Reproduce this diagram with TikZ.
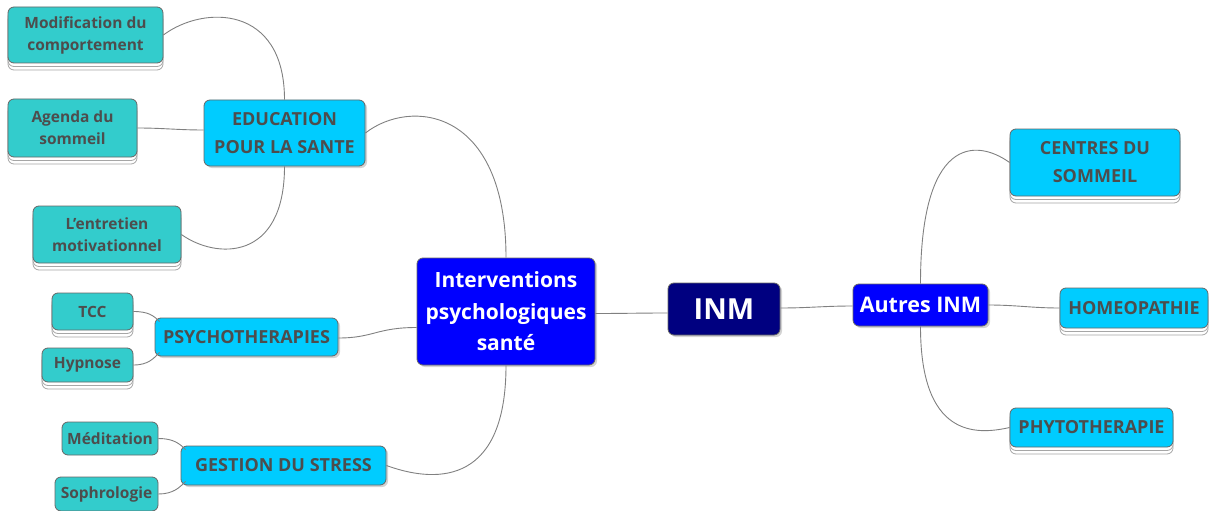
\documentclass[tikz,border=0pt]{standalone}
\usepackage{fontspec}
\setmainfont{Open Sans}
\usetikzlibrary{shadows,calc}
\definecolor{cyanbox}{HTML}{00CCFF}
\definecolor{tealbox}{HTML}{33CCCC}
\definecolor{bluebox}{HTML}{0000FF}
\definecolor{navybox}{HTML}{000080}
\definecolor{txtgray}{HTML}{4D4D4D}
\definecolor{edgegray}{HTML}{808080}
\definecolor{bordergray}{HTML}{666666}
\tikzset{
  box/.style={rounded corners=6pt, draw=bordergray, line width=0.8pt, align=center, inner sep=0pt, font=\bfseries},
  stackbox/.style={box, double copy shadow={shadow xshift=0pt, shadow yshift=-3.5pt, fill=white, draw=gray!70, line width=0.8pt}},
  dropbox/.style={box, drop shadow={shadow xshift=2pt, shadow yshift=-2pt, opacity=0.35}},
  leaffont/.style={fill=tealbox, text=txtgray, font=\bfseries\fontsize{15.5}{22}\selectfont},
  leafbox/.style={stackbox, leaffont},
  subbox/.style={fill=cyanbox, text=txtgray, font=\bfseries\fontsize{18}{28}\selectfont},
  conn/.style={draw=edgegray, line width=0.9pt}
}
\begin{document}
\begin{tikzpicture}[x=1pt,y=-1pt]
\useasboundingbox (0,0) rectangle (1211,511);
% teal leaves
\node[leafbox, minimum width=155pt, minimum height=56pt] (mod) at (85.5,35) {Modification du\\comportement};
\node[leafbox, minimum width=129pt, minimum height=58pt] (agenda) at (72.5,128) {Agenda du\\sommeil};
\node[leafbox, minimum width=148pt, minimum height=57pt] (entretien) at (107,234.5) {L'entretien\\motivationnel};
\node[leafbox, minimum width=81pt, minimum height=37pt] (tcc) at (92.5,311.5) {TCC};
\node[leafbox, minimum width=91pt, minimum height=34pt] (hyp) at (87.5,365) {Hypnose};
\node[box, leaffont, minimum width=96pt, minimum height=33pt] (med) at (110,438.5) {Méditation};
\node[box, leaffont, minimum width=103pt, minimum height=34pt] (soph) at (106.5,494) {Sophrologie};
% cyan sub nodes
\node[dropbox, subbox, minimum width=161pt, minimum height=66pt] (edu) at (284.5,133) {EDUCATION\\POUR LA SANTE};
\node[dropbox, subbox, minimum width=183pt, minimum height=38pt] (psy) at (246.5,337) {PSYCHOTHERAPIES};
\node[dropbox, subbox, minimum width=205pt, minimum height=39pt] (gest) at (283.5,465.5) {GESTION DU STRESS};
\node[stackbox, subbox, minimum width=170pt, minimum height=67pt] (centres) at (1095,162.5) {CENTRES DU\\SOMMEIL};
\node[stackbox, subbox, minimum width=148pt, minimum height=40pt] (homeo) at (1134,308) {HOMEOPATHIE};
\node[stackbox, subbox, minimum width=163pt, minimum height=39pt] (phyto) at (1091.5,427.5) {PHYTOTHERAPIE};
% main nodes
\node[dropbox, fill=bluebox, text=white, font=\bfseries\fontsize{21}{31.5}\selectfont, minimum width=178pt, minimum height=107pt] (inter) at (506,311.5) {Interventions\\psychologiques\\santé};
\node[dropbox, fill=navybox, text=white, font=\bfseries\fontsize{29}{34}\selectfont, minimum width=112pt, minimum height=52pt] (inm) at (724,309) {INM};
\node[dropbox, fill=bluebox, text=white, font=\bfseries\fontsize{21.5}{26}\selectfont, minimum width=135pt, minimum height=42pt] (autres) at (920.5,305) {Autres INM};
% connectors
\path[conn] ([yshift=-2pt]inter.east) to[out=0,in=180] ([yshift=-4pt]inm.west);
\path[conn] ([yshift=1pt]inm.east) to[out=0,in=180] ([yshift=-1pt]autres.west);
\path[conn] (autres.north) .. controls +(0,-145) and +(-35,-25) .. (centres.west);
\path[conn] (autres.east) to[out=0,in=180] (homeo.west);
\path[conn] (autres.south) .. controls +(0,110) and +(-35,8) .. (phyto.west);
\path[conn] (inter.north) .. controls +(0,-150) and +(45,-35) .. (edu.east);
\path[conn] ([yshift=-16pt]inter.west) .. controls +(-40,0) and +(35,0) .. ([yshift=-1pt]psy.east);
\path[conn] (inter.south) .. controls +(0,115) and +(55,20) .. (gest.east);
\path[conn] (edu.north) .. controls +(0,-95) and +(40,-30) .. (mod.east);
\path[conn] ([yshift=3pt]edu.west) to[out=180,in=0] (agenda.east);
\path[conn] (edu.south) .. controls +(0,95) and +(35,25) .. (entretien.east);
\path[conn] (tcc.east) .. controls +(15,0) and +(-6,-6) .. ([xshift=5pt,yshift=-4pt]psy.north west);
\path[conn] (hyp.east) .. controls +(15,0) and +(-6,6) .. ([xshift=5pt,yshift=4pt]psy.south west);
\path[conn] (med.east) .. controls +(15,0) and +(-6,-6) .. ([xshift=5pt,yshift=-4pt]gest.north west);
\path[conn] (soph.east) .. controls +(15,0) and +(-6,6) .. ([xshift=5pt,yshift=4pt]gest.south west);
\end{tikzpicture}
\end{document}
